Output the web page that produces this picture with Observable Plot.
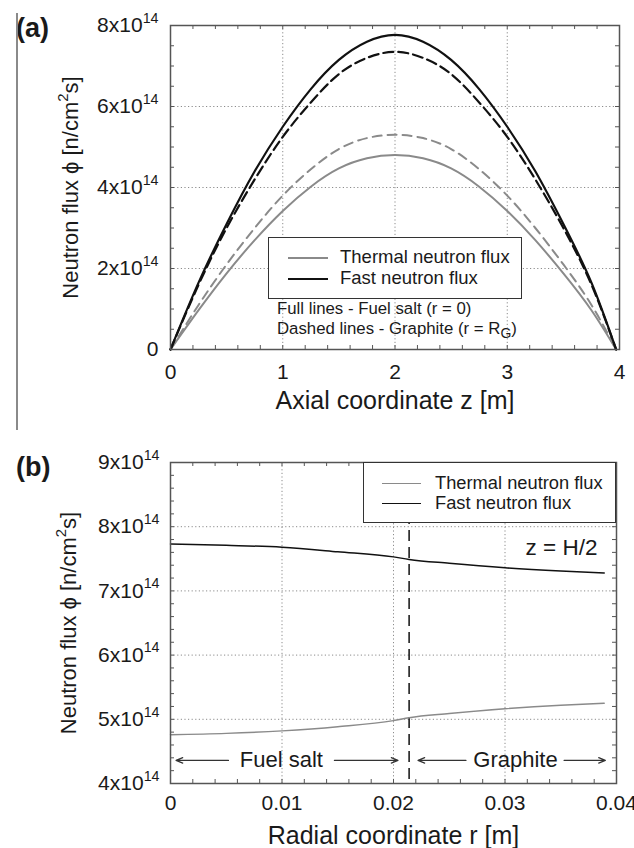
<!DOCTYPE html>
<html><head><meta charset="utf-8">
<script src="https://cdn.jsdelivr.net/npm/d3@7"></script>
<script src="https://cdn.jsdelivr.net/npm/@observablehq/plot@0.6"></script>
<style>
body{margin:0;background:#fff;}
#wrap{position:relative;width:634px;height:848px;overflow:hidden;font-family:"Liberation Sans",Arial,sans-serif;color:#1a1a1a;background:#fff;}
.abs{position:absolute;}
.panel{position:absolute;left:0;}
.tag{position:absolute;font-weight:bold;font-size:27px;line-height:30px;}
.legend{position:absolute;box-sizing:border-box;border:1.5px solid #333;background:#fff;}
.row{position:absolute;height:20px;line-height:20px;white-space:nowrap;}
.sw{position:absolute;top:9px;height:0;}
.note{position:absolute;font-size:16.8px;line-height:20px;white-space:nowrap;}
</style></head><body><div id="wrap"></div>
<script>
// ---------- (a) axial profiles, flux in units of 1e14 n/cm^2 s ----------
const zAxial = [0, 0.25, 0.5, 0.75, 1, 1.25, 1.5, 1.75, 2, 2.25, 2.5, 2.75, 3, 3.25, 3.5, 3.75, 3.97];
const thermalFuelAxial     = [0, 0.97, 1.88, 2.7, 3.42, 4.02, 4.47, 4.72, 4.8, 4.72, 4.47, 4.02, 3.42, 2.7, 1.88, 0.97, 0];
const thermalGraphiteAxial = [0, 1.1, 2.1, 3.0, 3.8, 4.45, 4.95, 5.22, 5.3, 5.22, 4.95, 4.45, 3.8, 3.0, 2.1, 1.1, 0];
const fastFuelAxial        = [0, 1.65, 3.1, 4.4, 5.5, 6.43, 7.15, 7.6, 7.77, 7.6, 7.15, 6.43, 5.5, 4.4, 3.1, 1.65, 0];
const fastGraphiteAxial    = [0, 1.6, 3.0, 4.2, 5.25, 6.1, 6.8, 7.2, 7.35, 7.2, 6.8, 6.1, 5.25, 4.2, 3.0, 1.6, 0];

// ---------- (b) radial profiles at z = H/2 ----------
const rRadial       = [0, 0.005, 0.01, 0.015, 0.02, 0.0214, 0.025, 0.03, 0.035, 0.0389];
const fastRadial    = [7.73, 7.71, 7.68, 7.61, 7.53, 7.49, 7.43, 7.36, 7.31, 7.28];
const thermalRadial = [4.76, 4.78, 4.82, 4.885, 4.98, 5.025, 5.09, 5.165, 5.22, 5.25];
const rGraphite = 0.0214;

// ---------- ticks & labels ----------
const FLUX_UNIT = 1e14;
const zTicks = [0, 1, 2, 3, 4];
const fluxTicksAxial = [0, 2, 4, 6, 8];
const rTicks = [0, 0.01, 0.02, 0.03, 0.04];
const fluxTicksRadial = [4, 5, 6, 7, 8, 9];
const yTitle = "Neutron flux \u03D5 [n/cm^{2}s]";
const xTitleAxial = "Axial coordinate z [m]";
const xTitleRadial = "Radial coordinate r [m]";
const seriesNames = ["Thermal neutron flux", "Fast neutron flux"];
const seriesColors = ["#8a8a8a", "#111111"];
const noteLines = ["Full lines - Fuel salt (r = 0)", "Dashed lines - Graphite (r = R<sub>G</sub>)"];
const zLabel = "z = H/2";
const regionLabels = [{r: 0.00994, v: 4.36, text: "Fuel salt"}, {r: 0.03094, v: 4.36, text: "Graphite"}];
const regionArrows = [
  {r1: 0.0052, r2: 0.0005, v: 4.36}, {r1: 0.0147, r2: 0.0204, v: 4.36},
  {r1: 0.0265, r2: 0.0222, v: 4.36}, {r1: 0.0353, r2: 0.0390, v: 4.36}
];

const FONT = '"Liberation Sans", Arial, sans-serif';
const fmtFlux = d => d === 0 ? "0" : `${Math.round(d / FLUX_UNIT)}x10^{14}`;
const toRows = (xs, ys) => xs.map((x, i) => ({x, y: ys[i] * FLUX_UNIT}));

function applyScripts(root) {
  const nodes = [...root.querySelectorAll("text, tspan")].filter(n => n.children.length === 0 && /[\^_]\{/.test(n.textContent));
  const NS = "http://www.w3.org/2000/svg";
  for (const n of nodes) {
    const s = n.textContent;
    n.textContent = "";
    const re = /([\^_])\{([^}]*)\}/g;
    let last = 0, m, pendingShift = 0;
    const add = (txt, kind) => {
      const t = document.createElementNS(NS, "tspan");
      t.textContent = txt;
      if (kind === "^") { t.setAttribute("font-size", "68%"); t.setAttribute("dy", "-0.66em"); pendingShift = 0.45; }
      else if (kind === "_") { t.setAttribute("font-size", "68%"); t.setAttribute("dy", "0.33em"); pendingShift = -0.22; }
      else if (pendingShift) { t.setAttribute("dy", pendingShift + "em"); pendingShift = 0; }
      n.appendChild(t);
    };
    while ((m = re.exec(s))) {
      if (m.index > last) add(s.slice(last, m.index));
      add(m[2], m[1]);
      last = re.lastIndex;
    }
    if (last < s.length) add(s.slice(last));
  }
}

// ---------- top panel ----------
const WA = 634, HA = 440, MLA = 170, MRA = 15, MTA = 25, MBA = 91;
const innerHA = HA - MTA - MBA, innerWA = WA - MLA - MRA;
const plotA = Plot.plot({
  width: WA, height: HA, marginLeft: MLA, marginRight: MRA, marginTop: MTA, marginBottom: MBA,
  style: {fontFamily: FONT, fontSize: "21px", color: "#1a1a1a", background: "white", overflow: "visible"},
  x: {domain: [0, 4], ticks: zTicks, tickFormat: d => String(d), tickSize: 0, tickPadding: 15, label: null},
  y: {domain: [0, 8 * FLUX_UNIT], ticks: fluxTicksAxial.map(d => d * FLUX_UNIT), tickFormat: fmtFlux, tickSize: 0, tickPadding: 12, label: null},
  marks: [
    Plot.ruleX(zTicks.slice(1, -1), {stroke: "#8c8c8c", strokeWidth: 1, strokeDasharray: "1.2,2.4"}),
    Plot.ruleY(fluxTicksAxial.slice(1, -1).map(d => d * FLUX_UNIT), {stroke: "#8c8c8c", strokeWidth: 1, strokeDasharray: "1.2,2.4"}),
    Plot.tickX(d3.range(0.2, 4, 0.2), {x: d => d, insetTop: innerHA - 4, stroke: "#555"}),
    Plot.tickX(d3.range(0.2, 4, 0.2), {x: d => d, insetBottom: innerHA - 4, stroke: "#555"}),
    Plot.tickY(d3.range(0.5, 8, 0.5).map(d => d * FLUX_UNIT), {y: d => d, insetRight: innerWA - 4, stroke: "#555"}),
    Plot.tickY(d3.range(0.5, 8, 0.5).map(d => d * FLUX_UNIT), {y: d => d, insetLeft: innerWA - 4, stroke: "#555"}),
    Plot.line(toRows(zAxial, thermalGraphiteAxial), {x: "x", y: "y", stroke: seriesColors[0], strokeWidth: 2, strokeDasharray: "9,6", curve: "natural"}),
    Plot.line(toRows(zAxial, thermalFuelAxial), {x: "x", y: "y", stroke: seriesColors[0], strokeWidth: 2, curve: "natural"}),
    Plot.line(toRows(zAxial, fastGraphiteAxial), {x: "x", y: "y", stroke: seriesColors[1], strokeWidth: 2.2, strokeDasharray: "10,5", curve: "natural"}),
    Plot.line(toRows(zAxial, fastFuelAxial), {x: "x", y: "y", stroke: seriesColors[1], strokeWidth: 2.2, curve: "natural"}),
    Plot.frame({stroke: "#555", strokeWidth: 1.5}),
    Plot.text([yTitle], {text: d => d, frameAnchor: "left", textAnchor: "middle", lineAnchor: "middle", rotate: -90, dx: -100, fontSize: 22}),
    Plot.text([xTitleAxial], {text: d => d, frameAnchor: "bottom", textAnchor: "middle", lineAnchor: "middle", dy: 51, fontSize: 25})
  ]
});

// ---------- bottom panel ----------
const WB = 634, HB = 408, MLB = 170, MRB = 18, MTB = 22, MBB = 65;
const innerHB = HB - MTB - MBB, innerWB = WB - MLB - MRB;
const plotB = Plot.plot({
  width: WB, height: HB, marginLeft: MLB, marginRight: MRB, marginTop: MTB, marginBottom: MBB,
  style: {fontFamily: FONT, fontSize: "21px", color: "#1a1a1a", background: "white", overflow: "visible"},
  x: {domain: [0, 0.04], ticks: rTicks, tickFormat: d => d === 0 ? "0" : d.toFixed(2), tickSize: 0, tickPadding: 12, label: null},
  y: {domain: [4 * FLUX_UNIT, 9 * FLUX_UNIT], ticks: fluxTicksRadial.map(d => d * FLUX_UNIT), tickFormat: fmtFlux, tickSize: 0, tickPadding: 11, label: null},
  marks: [
    Plot.ruleX(rTicks.slice(1, -1), {stroke: "#8c8c8c", strokeWidth: 1, strokeDasharray: "1.2,2.4"}),
    Plot.ruleY(fluxTicksRadial.slice(1, -1).map(d => d * FLUX_UNIT), {stroke: "#8c8c8c", strokeWidth: 1, strokeDasharray: "1.2,2.4"}),
    Plot.tickX(d3.range(0.002, 0.04, 0.002), {x: d => d, insetTop: innerHB - 4, stroke: "#555"}),
    Plot.tickX(d3.range(0.002, 0.04, 0.002), {x: d => d, insetBottom: innerHB - 4, stroke: "#555"}),
    Plot.tickY(d3.range(4.2, 9, 0.2).map(d => d * FLUX_UNIT), {y: d => d, insetRight: innerWB - 4, stroke: "#555"}),
    Plot.tickY(d3.range(4.2, 9, 0.2).map(d => d * FLUX_UNIT), {y: d => d, insetLeft: innerWB - 4, stroke: "#555"}),
    Plot.ruleX([rGraphite], {stroke: "#111", strokeWidth: 1.5, strokeDasharray: "11,6"}),
    Plot.line(toRows(rRadial, thermalRadial), {x: "x", y: "y", stroke: seriesColors[0], strokeWidth: 1.4, curve: "monotone-x"}),
    Plot.line(toRows(rRadial, fastRadial), {x: "x", y: "y", stroke: seriesColors[1], strokeWidth: 1.5, curve: "monotone-x"}),
    Plot.arrow(regionArrows, {x1: "r1", x2: "r2", y1: d => d.v * FLUX_UNIT, y2: d => d.v * FLUX_UNIT, stroke: "#333", strokeWidth: 1.2, headLength: 9, headAngle: 45}),
    Plot.text(regionLabels, {x: "r", y: d => d.v * FLUX_UNIT, text: "text", fontSize: 22, lineAnchor: "middle"}),
    Plot.text([zLabel], {text: d => d, frameAnchor: "top-right", textAnchor: "end", lineAnchor: "middle", dx: -19, dy: 85, fontSize: 22.5}),
    Plot.frame({stroke: "#555", strokeWidth: 1.5}),
    Plot.text([yTitle], {text: d => d, frameAnchor: "left", textAnchor: "middle", lineAnchor: "middle", rotate: -90, dx: -102, fontSize: 22}),
    Plot.text([xTitleRadial], {text: d => d, frameAnchor: "bottom", textAnchor: "middle", lineAnchor: "middle", dy: 52, fontSize: 25})
  ]
});

applyScripts(plotA); applyScripts(plotB);

const wrap = document.getElementById("wrap");
const pa = document.createElement("div"); pa.className = "panel"; pa.style.top = "0px"; pa.appendChild(plotA); wrap.appendChild(pa);
const pb = document.createElement("div"); pb.className = "panel"; pb.style.top = "440px"; pb.appendChild(plotB); wrap.appendChild(pb);

function legend(left, top, w, h, rowTops, swLeft, swW, txtLeft, fs, widths) {
  const box = document.createElement("div");
  box.className = "legend";
  Object.assign(box.style, {left: left + "px", top: top + "px", width: w + "px", height: h + "px"});
  seriesNames.forEach((name, i) => {
    const sw = document.createElement("div");
    sw.className = "sw";
    Object.assign(sw.style, {left: swLeft + "px", width: swW + "px", top: (rowTops[i] + 10) + "px", borderTop: `${widths[i]}px solid ${seriesColors[i]}`});
    box.appendChild(sw);
    const t = document.createElement("div");
    t.className = "row";
    Object.assign(t.style, {left: txtLeft + "px", top: rowTops[i] + "px", fontSize: fs + "px"});
    t.textContent = name;
    box.appendChild(t);
  });
  wrap.appendChild(box);
}
legend(268, 237, 254, 62, [9, 30], 19, 40, 71, 18.5, [2, 2]);
legend(363, 462, 253, 61, [10, 30], 18, 39, 71, 18.3, [1.5, 1.5]);

noteLines.forEach((s, i) => {
  const d = document.createElement("div");
  d.className = "note";
  Object.assign(d.style, {left: "277px", top: (299 + 20 * i) + "px"});
  d.innerHTML = s;
  wrap.appendChild(d);
});

const tagA = document.createElement("div"); tagA.className = "tag"; tagA.textContent = "(a)";
Object.assign(tagA.style, {left: "16px", top: "13px"}); wrap.appendChild(tagA);
const tagB = document.createElement("div"); tagB.className = "tag"; tagB.textContent = "(b)";
Object.assign(tagB.style, {left: "16px", top: "452px"}); wrap.appendChild(tagB);
const bar = document.createElement("div"); bar.className = "abs";
Object.assign(bar.style, {left: "16px", top: "13px", width: "1.5px", height: "417px", background: "#8a8a8a"}); wrap.appendChild(bar);
</script>
</body></html>
